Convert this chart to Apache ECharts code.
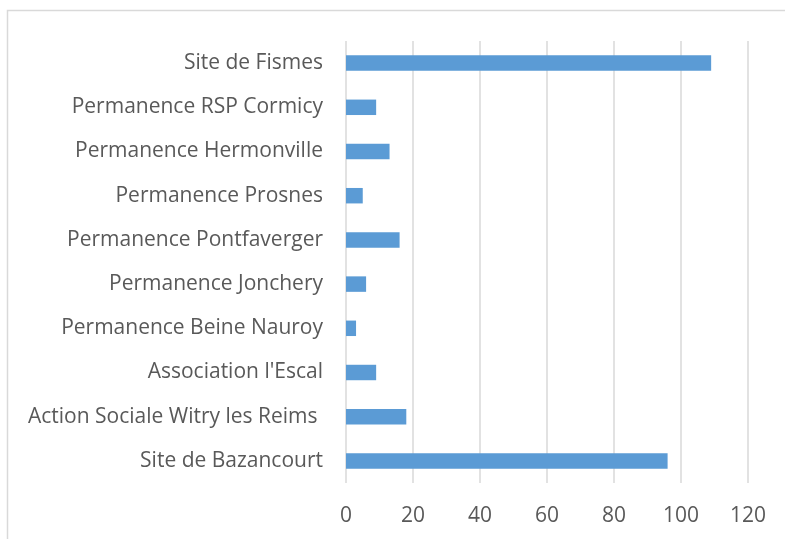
<!DOCTYPE html>
<html>
<head>
<meta charset="utf-8">
<script src="https://cdn.jsdelivr.net/npm/echarts@6/dist/echarts.min.js"></script>
<style>
  html, body { margin: 0; padding: 0; background: #fff; }
  #chart-container { width: 785px; height: 539px; }
</style>
</head>
<body>
<div id="chart-container"></div>
<script>
var dom = document.getElementById("chart-container");
var myChart = echarts.init(dom, null, { renderer: "canvas" });

// bottom to top, as on the axis
const categories = [
  "Site de Bazancourt",
  "Action Sociale Witry les Reims ",
  "Association l'Escal",
  "Permanence Beine Nauroy",
  "Permanence Jonchery",
  "Permanence Pontfaverger",
  "Permanence Prosnes",
  "Permanence Hermonville",
  "Permanence RSP Cormicy",
  "Site de Fismes",
];
const values = [96, 18, 9, 3, 6, 16, 5, 13, 9, 109];
const axisMax = 120;
const axisStep = 20;

var option = {
  backgroundColor: "#ffffff",
  textStyle: { fontFamily: "Open Sans" },
  graphic: [
    {
      type: "rect",
      shape: { x: 7.5, y: 10.5, width: 800, height: 540 },
      style: { fill: "none", stroke: "#d9d9d9", lineWidth: 1.5 },
      silent: true,
    },
  ],
  grid: {
    left: 346,
    right: 37,
    top: 41,
    bottom: 56,
  },
  xAxis: {
    type: "value",
    min: 0,
    max: axisMax,
    interval: axisStep,
    axisLine: { show: false },
    axisTick: { show: false },
    axisLabel: {
      color: "#595959",
      fontSize: 21,
      margin: 23,
    },
    splitLine: {
      lineStyle: { color: "#d9d9d9", width: 1.5 },
    },
  },
  yAxis: {
    type: "category",
    data: categories,
    axisLine: { show: false },
    axisTick: { show: false },
    axisLabel: {
      color: "#595959",
      fontSize: 21,
      margin: 23,
    },
  },
  series: [
    {
      type: "bar",
      data: values,
      barWidth: "35%",
      itemStyle: { color: "#5b9bd5" },
    },
  ],
};

myChart.setOption(option);
window.addEventListener("resize", myChart.resize);
</script>
</body>
</html>
